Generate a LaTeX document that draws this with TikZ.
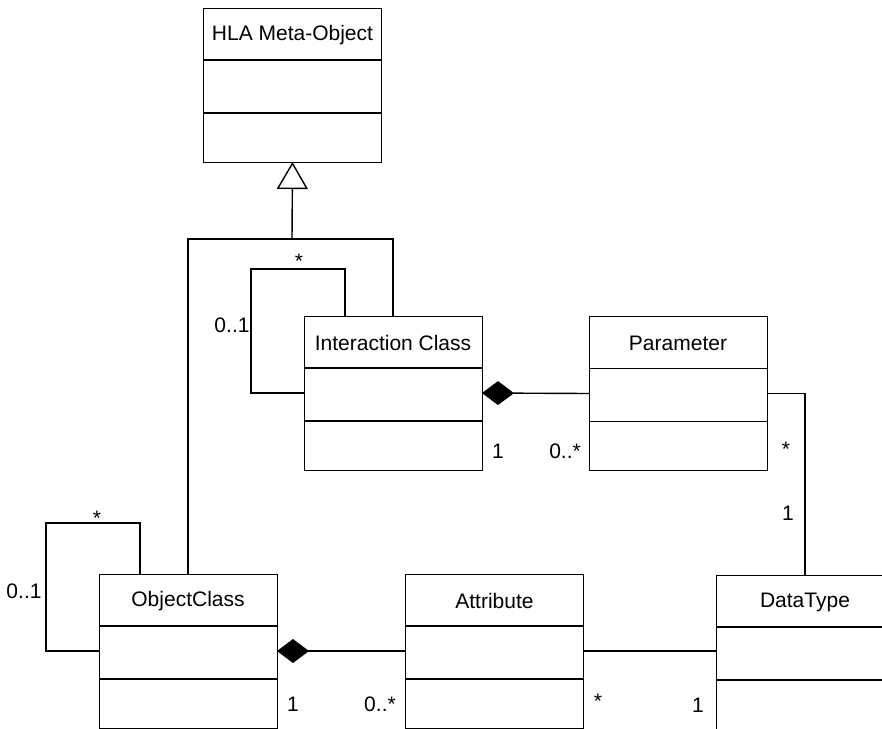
\documentclass[tikz,border=0pt]{standalone}
\usepackage{fontspec}
\setmainfont{Liberation Sans}
\usetikzlibrary{arrows.meta,positioning}

% class box: name, centre, title
\newcommand{\umlbox}[3]{%
  \node[classbox] (#1) at (#2) {};
  \node (#1-name) at ([yshift=-27pt]#1.north) {#3};
  \draw[divider] ([yshift=-52pt]#1.north west) -- ([yshift=-52pt]#1.north east);
  \draw[divider] ([yshift=-105pt]#1.north west) -- ([yshift=-105pt]#1.north east);
}

\begin{document}
\begin{tikzpicture}[x=1pt,y=-1pt,
    font=\fontsize{21}{25}\selectfont,
    classbox/.style={draw, line width=1pt, minimum width=178pt, minimum height=154pt, inner sep=0pt, outer sep=0pt},
    divider/.style={line width=1.4pt},
    link/.style={line width=1.4pt},
    mult/.style={anchor=base, inner sep=0pt}]
  \clip (0,0) rectangle (882,728);

  % Classes
  \umlbox{meta}{292.5,85}{HLA Meta-Object}
  \umlbox{inter}{393,393}{Interaction Class}
  \umlbox{param}{678,393.5}{Parameter}
  \umlbox{objc}{188,651}{ObjectClass}
  \umlbox{attr}{494.5,651}{Attribute}
  \umlbox{dtype}{805,652}{DataType}

  % Generalization
  \coordinate (join) at (292,239);
  \draw[link] (objc.north) |- (join) -| (inter.north);
  \draw[link, -{Triangle[open, width=31pt, length=27pt]}] (join) -- (meta.south);

  % Self associations
  \draw[link] ([xshift=41pt]inter.north west) |- (251,269) |- (inter.west);
  \node[mult] at (299,268) {*};
  \node[mult] at (232,332) {0..1};
  \draw[link] ([xshift=41pt]objc.north west) |- (46,523) |- (objc.west);
  \node[mult] at (97,525) {*};
  \node[mult] at (24,598) {0..1};

  % Compositions
  \draw[link, {Diamond[width=24pt, length=32pt]}-] (inter.east) -- (param.west);
  \node[mult] at (498,458) {1};
  \node[mult] at (565,458) {0..*};
  \draw[link, {Diamond[width=24pt, length=32pt]}-] (objc.east) -- (attr.west);
  \node[mult] at (293,711) {1};
  \node[mult] at (380,711) {0..*};

  % Associations to DataType
  \draw[link] (param.east) -| (dtype.north);
  \node[mult] at (786,456) {*};
  \node[mult] at (788,520) {1};
  \draw[link] (attr.east) -- (attr.east -| dtype.west);
  \node[mult] at (598,708) {*};
  \node[mult] at (698,712) {1};
\end{tikzpicture}
\end{document}
